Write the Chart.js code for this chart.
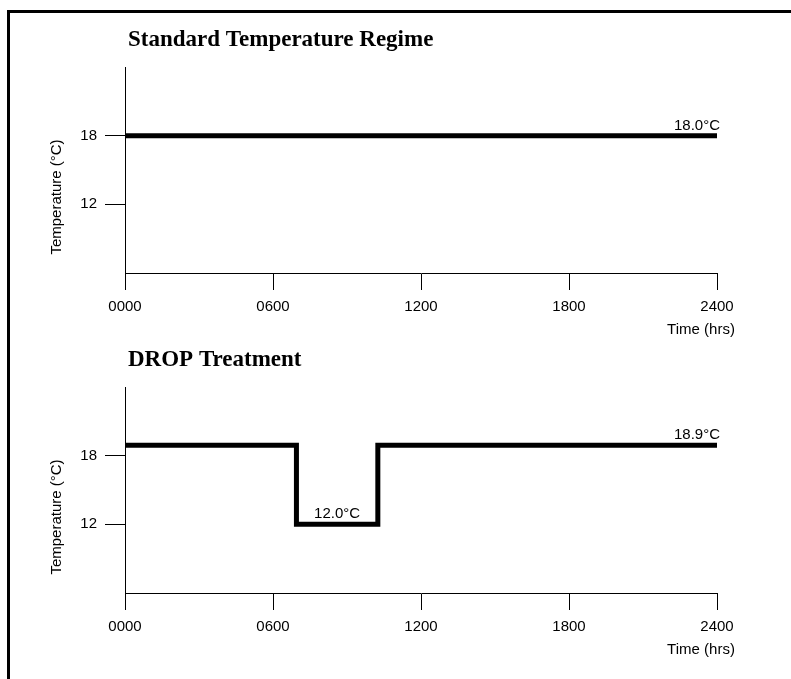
<!DOCTYPE html>
<html>
<head>
<meta charset="utf-8">
<title>Temperature regimes</title>
<script src="https://cdn.jsdelivr.net/npm/chart.js@4.4.0/dist/chart.umd.min.js"></script>
<style>
body { margin: 0; background: #fff; }
#page { position: relative; width: 791px; height: 679px; overflow: hidden; }
#frame { position: absolute; left: 7px; top: 10px; width: 800px; height: 700px; border-top: 3px solid #000; border-left: 3px solid #000; }
#top-chart { position: absolute; left: 0; top: 0; }
#bottom-chart { position: absolute; left: 0; top: 320px; }
</style>
</head>
<body>
<div id="page">
    <div id="frame"></div>
    <canvas id="top-chart" width="791" height="340"></canvas>
    <canvas id="bottom-chart" width="791" height="359"></canvas>
</div>
<script>
// time axis (hours) and temperature axis
const hourTicks = [0, 6, 12, 18, 24];
const hourLabels = ['0000', '0600', '1200', '1800', '2400'];
const tempTicks = [12, 18];
const tempLabels = ['12', '18'];

// standard regime
const standardHours = [0, 24];
const standardTemps = [18.0, 18.0];
const standardNotes = ['18.0°C'];

// DROP treatment
const dropHours = [0, 6.95, 10.25, 24];
const dropTemps = [18.9, 12.0, 18.9, 18.9];
const dropNotes = ['12.0°C', '18.9°C'];

const plotTop = 67;
const plotHeight = 206;
const sans = '"Liberation Sans", Arial, sans-serif';

const panelText = {
    id: 'panelText',
    afterDraw(chart, args, opts) {
        const ctx = chart.ctx;
        const area = chart.chartArea;
        const xs = chart.scales.x;
        const ys = chart.scales.y;

        ctx.save();
        ctx.fillStyle = '#000';

        ctx.font = 'bold 23px "Liberation Serif", "Times New Roman", serif';
        ctx.textAlign = 'left';
        ctx.textBaseline = 'alphabetic';
        ctx.fillText(opts.title, area.left + 3, area.top - 21);

        ctx.font = '15px ' + sans;
        opts.notes.forEach(n => {
            ctx.textAlign = n.align;
            const px = xs.getPixelForValue(n.x) + (n.align === 'right' ? 3 : 0);
            ctx.fillText(n.text, px, ys.getPixelForValue(n.y) - 6);
        });

        ctx.textAlign = 'center';
        ctx.textBaseline = 'middle';
        ctx.fillText('Time (hrs)', area.right - 16, area.bottom + 57);

        ctx.translate(57, (area.top + area.bottom) / 2 + 27);
        ctx.rotate(-Math.PI / 2);
        ctx.fillText('Temperature (°C)', 0, 0);
        ctx.restore();
    }
};

function makeChart(id, title, hours, temps, notes) {
    return new Chart(document.getElementById(id), {
        type: 'line',
        data: {
            datasets: [{
                data: hours.map((h, i) => ({ x: h, y: temps[i] })),
                borderColor: '#000',
                borderWidth: 5,
                borderJoinStyle: 'miter',
                pointRadius: 0,
                stepped: 'before',
                fill: false
            }]
        },
        options: {
            responsive: false,
            animation: false,
            layout: { padding: { top: plotTop, right: 74, left: 0, bottom: 0 } },
            plugins: {
                legend: { display: false },
                tooltip: { enabled: false },
                panelText: { title: title, notes: notes }
            },
            scales: {
                x: {
                    type: 'linear',
                    min: 0,
                    max: 24,
                    afterBuildTicks: s => { s.ticks = hourTicks.map(v => ({ value: v })); },
                    afterFit: s => { s.height = s.chart.height - plotTop - plotHeight; },
                    ticks: {
                        callback: (v, i) => hourLabels[i],
                        color: '#000',
                        font: { family: sans, size: 15 },
                        padding: 8,
                        maxRotation: 0,
                        autoSkip: false
                    },
                    grid: { drawOnChartArea: false, tickLength: 17, color: '#000', lineWidth: 1 },
                    border: { color: '#000', width: 1 }
                },
                y: {
                    type: 'linear',
                    min: 6,
                    max: 24,
                    afterBuildTicks: s => { s.ticks = tempTicks.map(v => ({ value: v })); },
                    afterFit: s => { s.width = 125; },
                    ticks: {
                        callback: (v, i) => tempLabels[i],
                        color: '#000',
                        font: { family: sans, size: 15 },
                        padding: 8
                    },
                    grid: { drawOnChartArea: false, tickLength: 20, color: '#000', lineWidth: 1 },
                    border: { color: '#000', width: 1 }
                }
            }
        },
        plugins: [panelText]
    });
}

makeChart('top-chart', 'Standard Temperature Regime', standardHours, standardTemps, [
    { text: standardNotes[0], x: standardHours[standardHours.length - 1], y: standardTemps[standardTemps.length - 1], align: 'right' }
]);

makeChart('bottom-chart', 'DROP Treatment', dropHours, dropTemps, [
    { text: dropNotes[0], x: (dropHours[1] + dropHours[2]) / 2, y: dropTemps[1], align: 'center' },
    { text: dropNotes[1], x: dropHours[dropHours.length - 1], y: dropTemps[dropTemps.length - 1], align: 'right' }
]);
</script>
</body>
</html>
